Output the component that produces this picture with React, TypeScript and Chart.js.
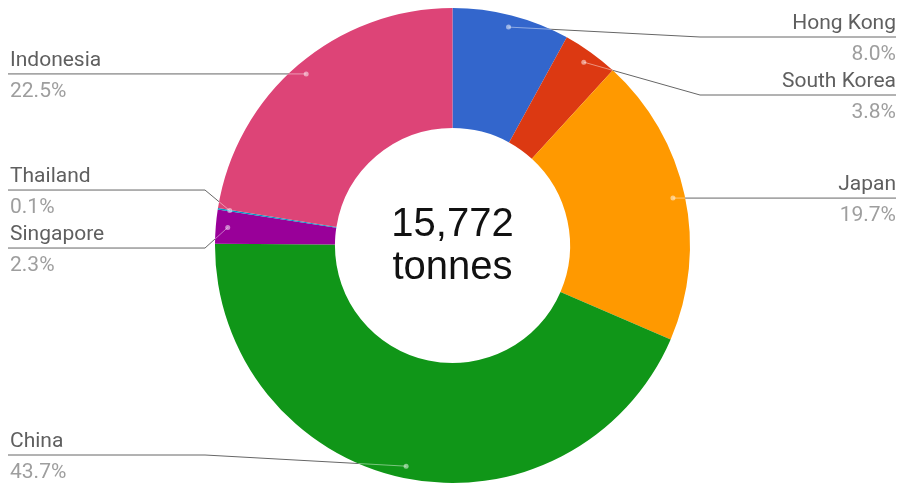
import React, { useEffect, useRef } from "react";
import { Chart, registerables } from "chart.js";

Chart.register(...registerables);

const countries = ["Hong Kong", "South Korea", "Japan", "China", "Singapore", "Thailand", "Indonesia"];
const shares = [8.0, 3.8, 19.7, 43.7, 2.3, 0.1, 22.5];
const sliceColors = ["#3366cc", "#dc3912", "#ff9900", "#109618", "#990099", "#0099c6", "#dd4477"];
const totalTonnes = 15772;
const totalUnit = "tonnes";

const LABEL_FONT = '21px Roboto, "Noto Sans", sans-serif';
const CENTER_FONT = '40px "Liberation Sans", Arial, sans-serif';

type Item = {
  i: number;
  px: number;
  py: number;
  side: "left" | "right";
  ly: number;
};

function spread(items: Item[], gap: number, minY: number, maxY: number) {
  const sorted = [...items].sort((a, b) => a.py - b.py);
  type Cl = { items: Item[]; top: number };
  const clusters: Cl[] = [];
  const place = (c: Cl) => {
    const n = c.items.length;
    let mean = 0;
    c.items.forEach((it, k) => (mean += it.py - k * gap));
    mean /= n;
    c.top = Math.min(Math.max(mean, minY), maxY - (n - 1) * gap);
  };
  for (const it of sorted) {
    let cur: Cl = { items: [it], top: 0 };
    place(cur);
    clusters.push(cur);
    while (clusters.length > 1) {
      const prev = clusters[clusters.length - 2];
      cur = clusters[clusters.length - 1];
      if (prev.top + prev.items.length * gap > cur.top) {
        const merged: Cl = { items: [...prev.items, ...cur.items], top: 0 };
        place(merged);
        clusters.splice(clusters.length - 2, 2, merged);
      } else break;
    }
  }
  clusters.forEach((c) => c.items.forEach((it, k) => (it.ly = c.top + k * gap)));
}

function computeLayout(chart: any) {
  const meta = chart.getDatasetMeta(0);
  const items: Item[] = [];
  let cx = 0, cy = 0, R = 0, r = 0;
  meta.data.forEach((arc: any, i: number) => {
    const p = arc.getProps(["x", "y", "startAngle", "endAngle", "outerRadius", "innerRadius"], true);
    cx = p.x; cy = p.y; R = p.outerRadius; r = p.innerRadius;
    const mid = (p.startAngle + p.endAngle) / 2;
    const pr = p.outerRadius - 12;
    const px = p.x + Math.cos(mid) * pr;
    const py = p.y + Math.sin(mid) * pr;
    items.push({ i, px, py, side: px < p.x ? "left" : "right", ly: py });
  });
  const h = chart.height;
  spread(items.filter((d) => d.side === "left"), 58, 37, h - 31);
  spread(items.filter((d) => d.side === "right"), 58, 37, h - 31);
  return { items, cx, cy, R, r };
}

function linePath(ctx: CanvasRenderingContext2D, it: Item, cx: number, R: number, w: number) {
  const dy = Math.abs(it.ly - it.py);
  ctx.beginPath();
  if (it.side === "left") {
    const elbow = dy < 5 ? it.px - 15 : cx - R - 10;
    ctx.moveTo(8, it.ly);
    ctx.lineTo(elbow, it.ly);
  } else {
    const elbow = dy < 5 ? it.px + 15 : cx + R + 10;
    ctx.moveTo(w - 4, it.ly);
    ctx.lineTo(elbow, it.ly);
  }
  ctx.lineTo(it.px, it.py);
  ctx.stroke();
}

const outLabels = {
  id: "outLabels",
  beforeDatasetsDraw(chart: any) {
    const { ctx } = chart;
    const L = computeLayout(chart);
    chart.$outLayout = L;
    ctx.save();
    ctx.strokeStyle = "#666666";
    ctx.lineWidth = 1;
    L.items.forEach((it) => linePath(ctx, it, L.cx, L.R, chart.width));
    ctx.restore();
  },
  afterDatasetsDraw(chart: any) {
    const { ctx } = chart;
    const L = chart.$outLayout || computeLayout(chart);
    const w = chart.width;
    // faint leader lines over slices
    ctx.save();
    ctx.beginPath();
    ctx.arc(L.cx, L.cy, L.R, 0, Math.PI * 2);
    ctx.clip();
    ctx.strokeStyle = "rgba(255,255,255,0.45)";
    ctx.lineWidth = 1;
    L.items.forEach((it: Item) => linePath(ctx, it, L.cx, L.R, w));
    ctx.restore();

    ctx.save();
    L.items.forEach((it: Item) => {
      ctx.beginPath();
      ctx.fillStyle = "rgba(255,255,255,0.5)";
      ctx.arc(it.px, it.py, 2.5, 0, Math.PI * 2);
      ctx.fill();
    });
    ctx.font = LABEL_FONT;
    ctx.textBaseline = "alphabetic";
    L.items.forEach((it: Item) => {
      const x = it.side === "left" ? 10 : w - 4;
      ctx.textAlign = it.side === "left" ? "left" : "right";
      ctx.fillStyle = "#5f5f5f";
      ctx.fillText(countries[it.i], x, it.ly - 8);
      ctx.fillStyle = "#9e9e9e";
      ctx.fillText(shares[it.i].toFixed(1) + "%", x, it.ly + 23);
    });
    ctx.font = CENTER_FONT;
    ctx.textAlign = "center";
    ctx.fillStyle = "#111111";
    ctx.fillText(totalTonnes.toLocaleString("en-US"), L.cx, L.cy - 10);
    ctx.fillText(totalUnit, L.cx, L.cy + 33);
    ctx.restore();
  },
};

export default function App() {
  const ref = useRef<HTMLCanvasElement | null>(null);
  useEffect(() => {
    document.body.style.margin = "0";
    if (!ref.current) return;
    const chart = new Chart(ref.current, {
      type: "doughnut",
      data: {
        labels: countries,
        datasets: [
          {
            data: shares,
            backgroundColor: sliceColors,
            borderWidth: 0,
          },
        ],
      },
      options: {
        animation: false,
        responsive: false,
        cutout: "49.5%",
        layout: { padding: { left: 215, right: 210, top: 8, bottom: 3 } },
        plugins: { legend: { display: false }, tooltip: { enabled: false } },
      },
      plugins: [outLabels],
    });
    return () => chart.destroy();
  }, []);
  return (
    <div style={{ width: 900, height: 486, background: "#fff" }}>
      <canvas ref={ref} width={900} height={486} style={{ display: "block" }} />
    </div>
  );
}
